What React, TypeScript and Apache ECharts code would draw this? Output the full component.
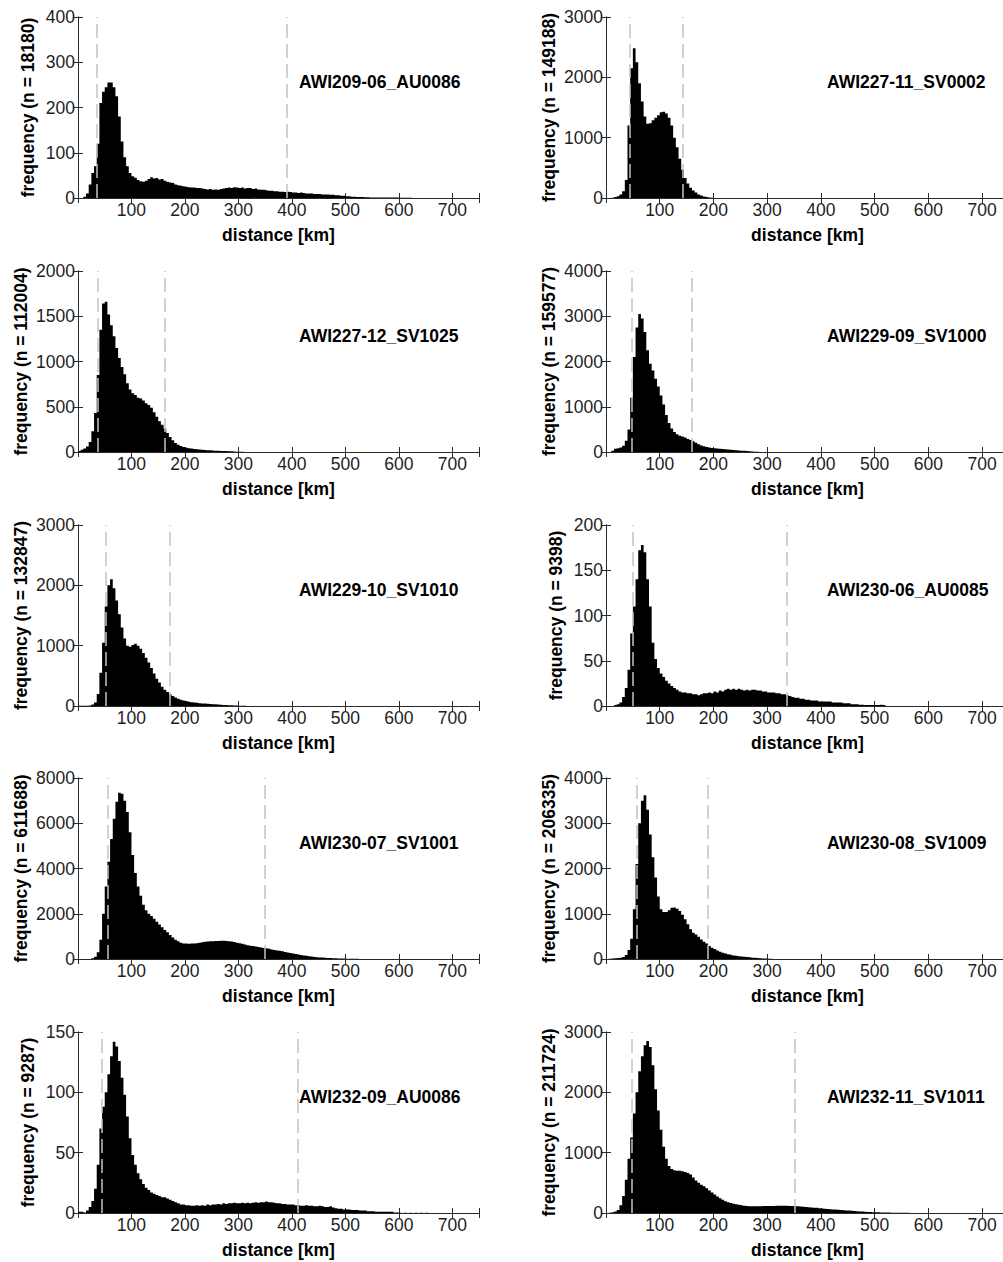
import React, { useEffect, useRef } from "react";
import * as echarts from "echarts";

// ---------- data (histogram heights, 5 km bins starting at 0 km) ----------
const BIN_KM = 5;

const panelNames = [
  "AWI209-06_AU0086",
  "AWI227-11_SV0002",
  "AWI227-12_SV1025",
  "AWI229-09_SV1000",
  "AWI229-10_SV1010",
  "AWI230-06_AU0085",
  "AWI230-07_SV1001",
  "AWI230-08_SV1009",
  "AWI232-09_AU0086",
  "AWI232-11_SV1011",
];

const sampleCounts = [18180, 149188, 112004, 159577, 132847, 9398, 611688, 206335, 9287, 211724];

const yMax = [400, 3000, 2000, 4000, 3000, 200, 8000, 4000, 150, 3000];
const yStep = [100, 1000, 500, 1000, 1000, 50, 2000, 1000, 50, 1000];

const xMin = 0;
const xMax = 750;
const xStep = 100;

// dashed reference lines (km)
const dashLow = [36, 45, 37, 48.5, 51.5, 50.5, 56.5, 58, 43.5, 48.5];
const dashHigh = [391, 143, 163, 160, 171.5, 337, 350, 189.5, 411, 350.5];

const hist0 = [
  0, 0, 3, 10, 30, 55, 70, 120, 210, 235, 245, 255, 255, 245, 225, 180, 125, 90, 70, 55,
  48, 45, 40, 37, 36, 38, 42, 46, 43, 44, 41, 42, 38, 36, 34, 33, 30, 28, 27, 26,
  25, 24, 23, 23, 22, 22, 21, 20, 19, 20, 18, 19, 18, 20, 21, 22, 23, 22, 24, 23,
  22, 23, 21, 22, 22, 20, 21, 19, 18, 18, 17, 16, 16, 15, 15, 14, 14, 13, 14, 13,
  12, 12, 11, 12, 11, 10, 10, 10, 9, 9, 9, 8, 8, 8, 7, 7, 6, 6, 5, 5,
  4, 4, 3, 3, 2, 2, 2, 1.5, 1.5, 1, 1, 1, 1, 1, 1, 1, 1, 1, 1, 1,
  0.5, 0.5, 0.5, 0.5, 0.5,
];
const hist1 = [
  0, 0, 5, 15, 30, 60, 110, 300, 1200, 2150, 2480, 2250, 1900, 1600, 1350, 1230, 1240, 1290, 1330, 1370,
  1420, 1430, 1400, 1330, 1200, 1000, 840, 650, 470, 330, 240, 170, 125, 90, 60, 40, 25, 15, 8, 4,
  2, 1,
];
const hist2 = [
  10, 25, 40, 60, 110, 230, 430, 850, 1350, 1640, 1660, 1520, 1400, 1280, 1150, 1040, 940, 860, 760, 690,
  650, 630, 600, 590, 570, 540, 520, 490, 440, 390, 340, 300, 260, 210, 165, 130, 100, 80, 65, 55,
  48, 42, 38, 34, 30, 27, 25, 22, 20, 18, 16, 15, 13, 12, 11, 10, 8, 7, 5, 4,
  3, 2, 1,
];
const hist3 = [
  0, 0, 30, 70, 85, 100, 140, 250, 500, 1200, 2100, 2750, 3050, 2950, 2650, 2250, 1950, 1800, 1620, 1450,
  1250, 1050, 820, 640, 520, 440, 390, 360, 340, 320, 290, 265, 240, 205, 170, 145, 125, 110, 100, 90,
  82, 78, 74, 68, 60, 55, 50, 45, 40, 35, 30, 26, 22, 16, 10, 6, 3, 1,
];
const hist4 = [
  5, 5, 5, 5, 10, 25, 60, 200, 550, 1050, 1650, 2000, 2100, 1950, 1750, 1520, 1300, 1120, 1000, 980,
  1010, 1030, 1000, 950, 880, 800, 720, 630, 540, 450, 390, 320, 270, 230, 195, 165, 140, 120, 105, 92,
  82, 72, 64, 57, 52, 47, 43, 40, 37, 33, 30, 27, 24, 21, 18, 16, 14, 12, 10, 8,
  6, 4, 3, 2, 1,
];
const hist5 = [
  0, 0, 0, 1, 2, 4, 10, 20, 40, 80, 110, 140, 172, 178, 170, 140, 110, 70, 52, 42,
  36, 32, 28, 25, 22, 20, 18, 16, 15, 15, 14, 14, 13, 13, 12, 13, 14, 14, 15, 14,
  16, 15, 17, 16, 18, 19, 18, 19, 18, 19, 18, 17, 18, 17, 18, 18, 17, 17, 16, 16,
  15, 15, 15, 14, 14, 13, 13, 12, 11, 10, 9, 9, 8, 8, 7, 7, 6, 6, 6, 5,
  5, 5, 5, 5, 4, 4, 4, 4, 3, 3, 3, 2, 2, 2, 1.5, 1.5, 1, 1, 1, 1,
  1, 1, 1.5, 1,
];
const hist6 = [
  0, 0, 0, 0, 5, 30, 100, 300, 850, 2000, 3200, 4300, 5300, 6200, 6950, 7350, 7300, 7000, 6500, 5600,
  4600, 3800, 3200, 2800, 2400, 2150, 2000, 1900, 1780, 1650, 1520, 1400, 1280, 1180, 1060, 950, 850, 780, 720, 690,
  680, 670, 680, 690, 700, 720, 740, 760, 770, 780, 790, 800, 800, 810, 810, 800, 790, 770, 750, 720,
  700, 670, 640, 610, 590, 570, 550, 530, 510, 490, 470, 450, 420, 400, 380, 360, 340, 310, 290, 265,
  245, 220, 200, 180, 160, 140, 120, 105, 92, 80, 70, 62, 55, 48, 42, 36, 30, 26, 22, 18,
  15, 12, 10, 8, 6, 5, 4, 3, 3, 2, 2, 1,
];
const hist7 = [
  0, 5, 10, 15, 20, 25, 45, 90, 200, 450, 1100, 2100, 3000, 3500, 3620, 3300, 2750, 2250, 1800, 1380,
  1100, 1040, 1040, 1080, 1130, 1140, 1110, 1060, 980, 880, 770, 660, 580, 540, 490, 430, 380, 340, 290, 250,
  220, 190, 160, 140, 120, 105, 92, 80, 70, 62, 55, 48, 42, 36, 30, 25, 20, 16, 12, 9,
  6, 4, 2, 1,
];
const hist8 = [
  1, 1, 0.5, 2, 5, 10, 20, 40, 70, 88, 100, 115, 130, 142, 138, 126, 112, 98, 80, 62,
  48, 40, 33, 28, 24, 21, 19, 17, 16, 15, 14, 13, 13, 12, 11, 10, 9, 8, 7, 7,
  6.5, 6.5, 6, 6, 6.5, 6, 6.5, 6, 7, 6.5, 7, 7, 7.5, 7, 8, 7.5, 8, 8, 8.5, 8,
  8, 8.5, 8, 8.5, 8, 8.5, 9, 8.5, 9, 9, 9.5, 9, 9, 8.5, 8, 8, 7.5, 7.5, 7, 7,
  7, 6.5, 6.5, 6, 6, 6.5, 6, 6, 5.5, 5.5, 6, 5.5, 5, 5, 5.5, 4.5, 4, 3.5, 3.5, 3,
  3, 3, 2.5, 2.5, 2.5, 2, 2, 2, 1.5, 1.5, 1.5, 1, 1, 1, 1, 1, 1, 1, 0.5, 0.5,
  0.3, 0, 0.3, 0, 0.3, 0, 0.3, 0, 0.3, 0, 0.3,
];
const hist9 = [
  2, 5, 12, 25, 50, 130, 280, 550, 900, 1250, 1650, 2000, 2350, 2600, 2780, 2850, 2750, 2450, 2050, 1700,
  1380, 1100, 900, 780, 730, 710, 700, 700, 690, 680, 665, 640, 590, 540, 500, 470, 445, 410, 375, 340,
  305, 275, 245, 220, 195, 180, 165, 155, 145, 135, 128, 122, 117, 113, 110, 110, 112, 113, 115, 116,
  117, 118, 118, 120, 120, 120, 121, 120, 118, 116, 113, 110, 106, 102, 98, 95, 92, 88, 85, 80,
  76, 72, 68, 64, 60, 56, 52, 48, 45, 42, 40, 36, 32, 29, 26, 23, 20, 18, 16, 14,
  12, 11, 10, 9, 8, 7, 6, 5, 5, 4, 4, 3, 3, 2, 2, 2, 1,
];

const histograms = [hist0, hist1, hist2, hist3, hist4, hist5, hist6, hist7, hist8, hist9];

// ---------- layout / style ----------
const ROW_TOPS = [17, 271, 525, 778, 1032];
const COL_LEFTS = [78, 606];
const COL_WIDTHS = [401, 403];
const GRID_H = 181;
const FONT = '"Liberation Sans", Arial, Helvetica, sans-serif';
const FRAME = "#2a2a2a";
const LABEL = "#1e1e1e";
const FS = 17.5;

function buildOption() {
  const grid: any[] = [];
  const xAxis: any[] = [];
  const yAxis: any[] = [];
  const series: any[] = [];
  const graphic: any[] = [];

  const axisLine = { show: true, lineStyle: { color: FRAME, width: 1 } };
  const axisTick = { show: true, inside: true, length: 5, lineStyle: { color: FRAME, width: 1 } };

  panelNames.forEach((name, i) => {
    const row = Math.floor(i / 2);
    const col = i % 2;
    const left = COL_LEFTS[col];
    const top = ROW_TOPS[row];
    grid.push({
      left,
      top,
      width: COL_WIDTHS[col],
      height: GRID_H,
      containLabel: false,
      outerBoundsMode: "none",
      show: false,
    });

    xAxis.push({
      type: "value",
      gridIndex: i,
      position: "bottom",
      min: xMin,
      max: xMax,
      interval: xStep,
      axisLine,
      axisTick,
      splitLine: { show: false },
      axisLabel: {
        margin: 3,
        fontSize: FS,
        fontFamily: FONT,
        color: LABEL,
        formatter: (v: number) => (v === 0 || v % xStep !== 0 ? "" : String(v)),
      },
      name: "distance [km]",
      nameLocation: "middle",
      nameGap: 28,
      nameTextStyle: { fontSize: FS, fontWeight: "bold", fontFamily: FONT, color: "#000" },
    });
    xAxis.push({
      type: "value",
      gridIndex: i,
      position: "top",
      min: xMin,
      max: xMax,
      interval: xStep,
      axisLine,
      axisTick,
      splitLine: { show: false },
      axisLabel: { show: false },
    });

    const digits = String(yMax[i]).length;
    yAxis.push({
      type: "value",
      gridIndex: i,
      position: "left",
      min: 0,
      max: yMax[i],
      interval: yStep[i],
      axisLine,
      axisTick,
      splitLine: { show: false },
      axisLabel: {
        margin: 3,
        fontSize: FS,
        fontFamily: FONT,
        color: LABEL,
        formatter: (v: number) => String(v),
      },
      name: `frequency (n = ${sampleCounts[i]})`,
      nameLocation: "middle",
      nameGap: digits >= 4 ? 48 : 41,
      nameTextStyle: { fontSize: FS, fontWeight: "bold", fontFamily: FONT, color: "#000" },
    });
    yAxis.push({
      type: "value",
      gridIndex: i,
      position: "right",
      min: 0,
      max: yMax[i],
      interval: yStep[i],
      axisLine,
      axisTick,
      splitLine: { show: false },
      axisLabel: { show: false },
    });

    series.push({
      type: "bar",
      name,
      xAxisIndex: 2 * i,
      yAxisIndex: 2 * i,
      data: histograms[i].map((v, k) => [k * BIN_KM + BIN_KM / 2, v]),
      barWidth: "100%",
      large: true,
      largeThreshold: 1,
      itemStyle: { color: "#000" },
      silent: true,
      markLine: {
        silent: true,
        symbol: ["none", "none"],
        label: { show: false },
        lineStyle: { color: "#c4c4c4", type: [14, 6], width: 1.5 },
        data: [{ xAxis: dashLow[i] }, { xAxis: dashHigh[i] }],
      },
    });

    graphic.push({
      type: "text",
      x: left + 221,
      y: top + 65,
      silent: true,
      style: {
        text: name,
        fontSize: FS,
        fontWeight: "bold",
        fontFamily: FONT,
        fill: "#000",
        verticalAlign: "middle",
        align: "left",
      },
    });
  });

  return {
    animation: false,
    backgroundColor: "#fff",
    grid,
    xAxis,
    yAxis,
    series,
    graphic,
  };
}

export default function App() {
  const ref = useRef<HTMLDivElement>(null);
  useEffect(() => {
    if (!ref.current) return;
    const chart = echarts.init(ref.current, undefined, { renderer: "svg" });
    chart.setOption(buildOption() as any);
    return () => chart.dispose();
  }, []);
  return (
    <div
      ref={ref}
      style={{ position: "absolute", left: 0, top: 0, width: 1003, height: 1262, background: "#fff" }}
    />
  );
}
